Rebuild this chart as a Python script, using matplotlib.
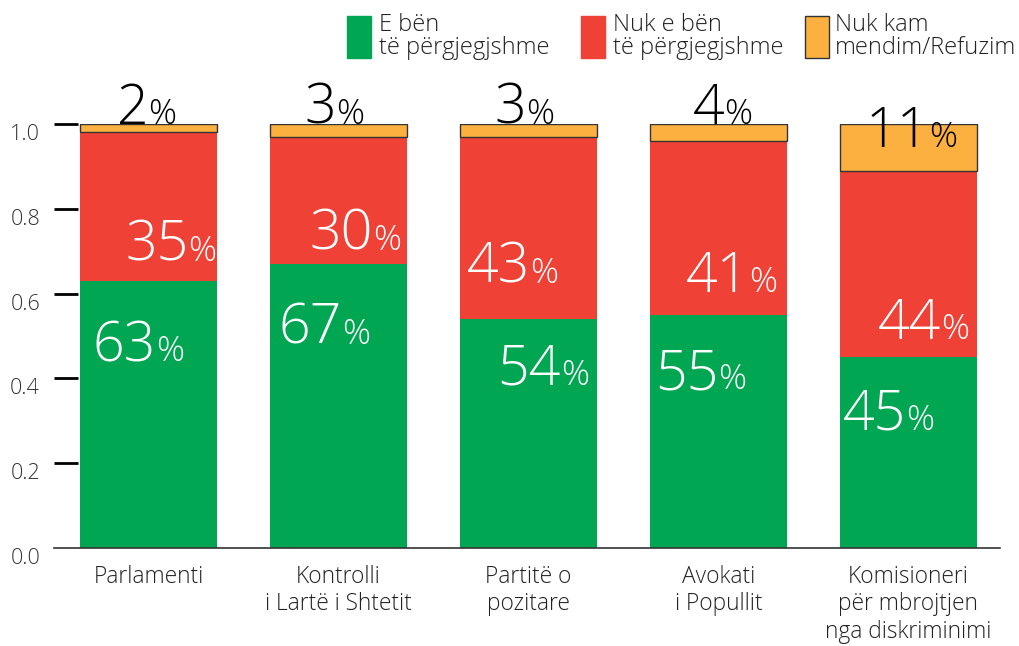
import matplotlib.pyplot as plt
from matplotlib.patches import Rectangle
from matplotlib.transforms import ScaledTranslation

plt.rcParams['font.family'] = ['Open Sans', 'DejaVu Sans']

categories = ['Parlamenti', 'Kontrolli\ni Lartë i Shtetit', 'Partitë o\npozitare',
              'Avokati\ni Popullit', 'Komisioneri\npër mbrojtjen\nnga diskriminimi']
po = [63, 67, 54, 55, 45]
jo = [35, 30, 43, 41, 44]
pamendim = [2, 3, 3, 4, 11]

series_names = ['E bën\ntë përgjegjshme', 'Nuk e bën\ntë përgjegjshme', 'Nuk kam\nmendim/Refuzim']
colors = ['#00A651', '#EF4136', '#FBB040']

# label anchor (x offset from bar centre, y baseline) for each segment
po_pos = [(0.04, 0.44), (0.02, 0.482), (0.17, 0.385), (0.0, 0.374), (-0.01, 0.279)]
jo_pos = [(0.21, 0.677), (0.18, 0.704), (0.01, 0.626), (0.16, 0.603), (0.17, 0.492)]
pm_pos = [(0.0, 1.0), (-0.01, 1.0), (-0.01, 1.0), (0.03, 1.0), (0.11, 0.946)]

W, H = 1020, 646
fig = plt.figure(figsize=(W / 100, H / 100), dpi=100)
ax = fig.add_axes([54 / W, (H - 548) / H, (1000 - 54) / W, (548 - 124) / H])

x = range(len(categories))
a = [v / 100 for v in po]
b = [v / 100 for v in jo]
c = [v / 100 for v in pamendim]
ab = [i + j for i, j in zip(a, b)]

ax.bar(x, a, width=0.72, color=colors[0])
ax.bar(x, b, width=0.72, bottom=a, color=colors[1])
ax.bar(x, c, width=0.72, bottom=ab, color=colors[2], edgecolor='#333333', linewidth=1)


def pct_label(xc, yb, val, col):
    ax.text(xc, yb, str(val), ha='right', va='baseline', fontsize=40,
            fontweight='light', color=col)
    ax.text(xc, yb, '%', ha='left', va='baseline', fontsize=25,
            fontweight='light', color=col)


for i in x:
    pct_label(i + po_pos[i][0], po_pos[i][1], po[i], 'white')
    pct_label(i + jo_pos[i][0], jo_pos[i][1], jo[i], 'white')
    pct_label(i + pm_pos[i][0], pm_pos[i][1], pamendim[i], 'black')

ax.set_xlim(-0.497, 4.482)
ax.set_ylim(0, 1.0)
ax.set_yticks([0, 0.2, 0.4, 0.6, 0.8, 1.0])
ax.set_yticklabels(['0.0', '0.2', '0.4', '0.6', '0.8', '1.0'], fontweight='light')
ax.set_xticks(list(x))
ax.set_xticklabels(categories, fontsize=16.4, color='#222222', linespacing=1.2,
                   fontweight='light')
ax.tick_params(axis='x', length=0, pad=12)
ax.tick_params(axis='y', direction='in', length=17, width=2, color='black',
               pad=10, labelsize=15.5, labelcolor='#333333')
ax.yaxis.get_major_ticks()[0].tick1line.set_visible(False)
for lab in ax.get_yticklabels():
    lab.set_transform(lab.get_transform() + ScaledTranslation(0, -0.08, fig.dpi_scale_trans))

for s in ['top', 'right', 'left']:
    ax.spines[s].set_visible(False)
ax.spines['bottom'].set_color('#333333')
ax.spines['bottom'].set_linewidth(1.2)
ax.spines['bottom'].set_bounds(-0.497, 4.482)

# legend drawn by hand
leg_x = [347, 581, 805]
leg_tx = [379, 613, 835]
for k in range(3):
    ec = '#333333' if k == 2 else colors[k]
    fig.patches.append(Rectangle((leg_x[k] / W, (H - 58) / H), 24 / W, 42 / H,
                                 transform=fig.transFigure, facecolor=colors[k],
                                 edgecolor=ec, linewidth=1))
    fig.text(leg_tx[k] / W, (H - 13) / H, series_names[k], ha='left', va='top',
             fontsize=17, color='#222222', linespacing=0.95, fontweight='light')

fig.savefig('out.png', dpi=100)
